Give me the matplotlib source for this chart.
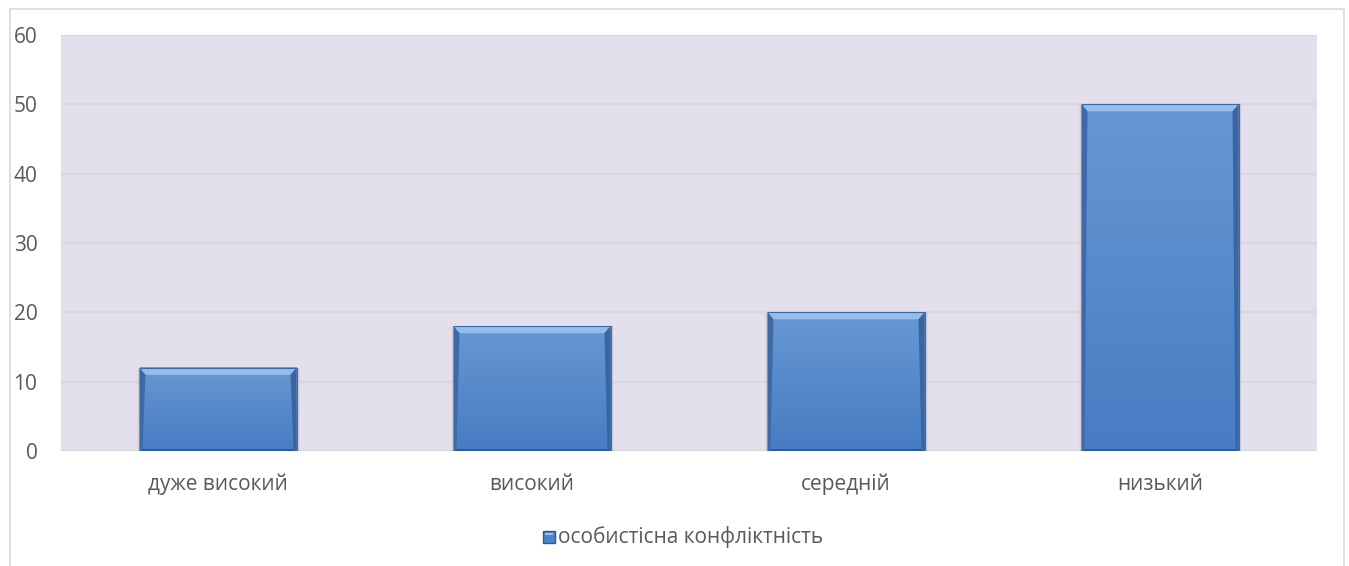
import numpy as np
import matplotlib.pyplot as plt
from matplotlib.patches import Rectangle, Polygon
from matplotlib.colors import LinearSegmentedColormap

# Levels of personal conflict and share of respondents
categories = ['дуже високий', 'високий', 'середній', 'низький']
values = [12, 18, 20, 50]
series_name = 'особистісна конфліктність'
yticks = [0, 10, 20, 30, 40, 50, 60]

plt.rcParams['font.family'] = ['Open Sans', 'DejaVu Sans']
text_color = '#595959'
grid_color = '#d9d9d9'

W, H = 1349, 566
fig = plt.figure(figsize=(W/100, H/100), dpi=100)

# outer chart frame (bottom edge runs off the image)
fig.patches.append(Rectangle((10/W, -0.05), 1334/W, (H-9)/H + 0.05,
                             transform=fig.transFigure, fill=False,
                             edgecolor='#d9d9d9', lw=1.2))

ax_l, ax_b, ax_w, ax_h = 61/W, 115/H, 1256/W, 416/H
ax = fig.add_axes([ax_l, ax_b, ax_w, ax_h])
ax.set_facecolor('#e4dfec')
ax.set_xlim(-0.5, len(categories) - 0.5)
ax.set_ylim(0, 60)
for s in ax.spines.values():
    s.set_visible(False)
ax.set_yticks(yticks)
ax.yaxis.grid(True, color=grid_color, lw=1.6)
ax.set_axisbelow(True)
ax.tick_params(axis='both', length=0, labelsize=15, colors=text_color)
ax.tick_params(axis='y', pad=17)
ax.tick_params(axis='x', pad=16.5)
ax.set_xticks(range(len(categories)))
ax.set_xticklabels(categories)
ax.axhline(0, color=grid_color, lw=1.6, zorder=1)

# pixels per data unit, used for the bevel widths
px_x = ax_w*W / (len(categories))
px_y = ax_h*H / 60.0

bars = ax.bar(range(len(categories)), values, width=0.5,
              color='none', edgecolor='none', zorder=2)

cmap = LinearSegmentedColormap.from_list('bar', ['#477cc3', '#6898d4'])
grad = np.linspace(0, 1, 256).reshape(-1, 1)

for b in bars:
    x0, y0 = b.get_x(), b.get_y()
    x1, y1 = x0 + b.get_width(), y0 + b.get_height()
    bx, by = 6/px_x, 7/px_y
    ex, ey = 3/px_x, 2/px_y

    # soft shadow under the bar
    for k, a in enumerate([0.10, 0.07, 0.04]):
        sx = (k+1)/px_x
        sy = (k+1)/px_y
        ax.add_patch(Rectangle((x0 - sx, y0 - sy), (x1-x0) + 2*sx, (y1-y0) + sy,
                               facecolor='#404040', alpha=a, edgecolor='none', zorder=2))

    ax.imshow(grad, extent=[x0, x1, y0, y1], origin='lower', aspect='auto',
              cmap=cmap, zorder=3, interpolation='bilinear')

    # bevel edges
    ax.add_patch(Polygon([[x0, y1], [x1, y1], [x1-bx, y1-by], [x0+bx, y1-by]],
                         closed=True, facecolor='#93bdec', edgecolor='none', zorder=4))
    ax.add_patch(Polygon([[x0, y1], [x0+bx, y1-by], [x0+ex, y0+ey], [x0, y0]],
                         closed=True, facecolor='#3e6aa8', edgecolor='none', zorder=4))
    ax.add_patch(Polygon([[x1, y1], [x1-bx, y1-by], [x1-ex, y0+ey], [x1, y0]],
                         closed=True, facecolor='#3a659f', edgecolor='none', zorder=4))
    ax.add_patch(Polygon([[x0, y0], [x0+ex, y0+ey], [x1-ex, y0+ey], [x1, y0]],
                         closed=True, facecolor='#2f5a92', edgecolor='none', zorder=4))
    ax.add_patch(Rectangle((x0, y0), x1-x0, y1-y0, fill=False,
                           edgecolor='#3c6aa6', lw=0.8, zorder=5))

# legend: small beveled square and series name
lx, ly, ls = 543/W, (H-543)/H, 12
fig.patches.append(Rectangle((lx, ly), ls/W, ls/H, transform=fig.transFigure,
                             facecolor='#4f84c8', edgecolor='#2f5a92', lw=1.0))
fig.patches.append(Rectangle((lx + 2/W, ly + (ls-4)/H), (ls-4)/W, 2/H,
                             transform=fig.transFigure, facecolor='#9cc3ee',
                             edgecolor='none'))
fig.text(558/W, (H-537)/H, series_name, fontsize=15, color=text_color,
         va='center', ha='left')

fig.savefig('out.png', dpi=100)
